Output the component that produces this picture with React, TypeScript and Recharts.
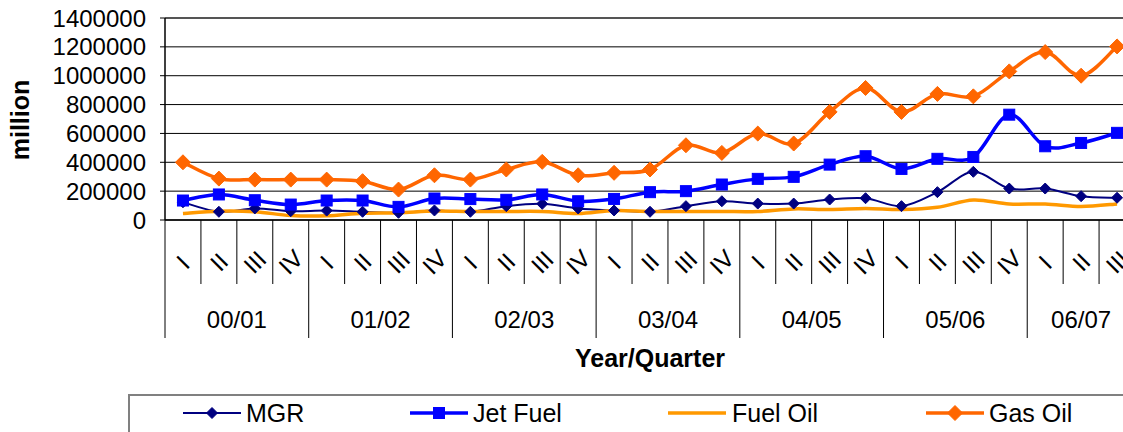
import React from "react";
import { LineChart, Line, XAxis, YAxis, CartesianGrid, ReferenceLine, Legend } from "recharts";

// ---------- data ----------
const years = ["00/01", "01/02", "02/03", "03/04", "04/05", "05/06", "06/07"];
const quartersPerYear = [4, 4, 4, 4, 4, 4, 3];
const quarterNames = ["I", "II", "III", "IV"];
const yTicks = [0, 200000, 400000, 600000, 800000, 1000000, 1200000, 1400000];

const mgr = [123000, 57000, 80000, 61000, 65000, 57000, 50000, 66000, 57000, 96000, 112000, 80000, 66000, 57000, 96000, 130000, 114000, 114000, 142000, 151000, 96000, 193000, 334000, 218000, 218000, 165000, 154000];
const jetFuel = [135000, 177000, 137000, 107000, 135000, 135000, 91000, 149000, 145000, 140000, 177000, 130000, 146000, 193000, 200000, 246000, 285000, 299000, 384000, 442000, 354000, 424000, 437000, 730000, 511000, 534000, 604000];
const fuelOil = [45000, 61000, 57000, 31000, 29000, 47000, 50000, 63000, 59000, 59000, 59000, 45000, 66000, 59000, 59000, 59000, 59000, 77000, 73000, 80000, 73000, 88000, 139000, 111000, 111000, 93000, 111000];
const gasOil = [400000, 287000, 280000, 280000, 280000, 269000, 211000, 310000, 280000, 350000, 403000, 310000, 327000, 350000, 518000, 465000, 599000, 530000, 749000, 915000, 749000, 874000, 857000, 1030000, 1164000, 1000000, 1203000];

type Cat = { year: string; q: string; qi: number; count: number };
const categories: Cat[] = [];
years.forEach((y, yi) => {
  for (let k = 0; k < quartersPerYear[yi]; k++) {
    categories.push({ year: y, q: quarterNames[k], qi: k, count: quartersPerYear[yi] });
  }
});

const data = categories.map((c, i) => ({
  cat: i,
  mgr: mgr[i],
  jet: jetFuel[i],
  fuel: fuelOil[i],
  gas: gasOil[i],
}));

// ---------- layout / style ----------
const FONT = "'Liberation Sans', Arial, sans-serif";
const CHART_W = 1160;
const CHART_H = 432;
const MARGIN = { top: 18, right: 25, left: 0, bottom: 72 };
const Y_W = 165;
const X_H = 140;
const PLOT_W = CHART_W - MARGIN.left - MARGIN.right - Y_W;
const STEP = PLOT_W / categories.length;
const AXIS_Y = CHART_H - MARGIN.bottom - X_H;

const COLORS = { mgr: "#000080", jet: "#0000FF", fuel: "#FF9900", gas: "#FF6600" };

const series = [
  { key: "mgr", name: "MGR", color: COLORS.mgr, width: 2, marker: "diamond", ms: 5.5 },
  { key: "jet", name: "Jet Fuel", color: COLORS.jet, width: 3.5, marker: "square", ms: 5.5 },
  { key: "fuel", name: "Fuel Oil", color: COLORS.fuel, width: 3.5, marker: "none", ms: 0 },
  { key: "gas", name: "Gas Oil", color: COLORS.gas, width: 3.5, marker: "diamond", ms: 7.5 },
];

// Excel-like smoothed line (cardinal spline through points)
function excelSmooth(context: any) {
  let pts: number[][] = [];
  return {
    areaStart() {},
    areaEnd() {},
    lineStart() {
      pts = [];
    },
    point(x: number, y: number) {
      pts.push([+x, +y]);
    },
    lineEnd() {
      const n = pts.length;
      if (!n) return;
      context.moveTo(pts[0][0], pts[0][1]);
      for (let i = 0; i < n - 1; i++) {
        const p0 = pts[i - 1] || pts[i];
        const p1 = pts[i];
        const p2 = pts[i + 1];
        const p3 = pts[i + 2] || p2;
        context.bezierCurveTo(
          p1[0] + (p2[0] - p0[0]) / 6,
          p1[1] + (p2[1] - p0[1]) / 6,
          p2[0] - (p3[0] - p1[0]) / 6,
          p2[1] - (p3[1] - p1[1]) / 6,
          p2[0],
          p2[1]
        );
      }
    },
  };
}

function markerShape(kind: string, cx: number, cy: number, s: number, color: string, key?: any) {
  if (kind === "diamond") {
    return (
      <polygon
        key={key}
        points={`${cx},${cy - s} ${cx + s},${cy} ${cx},${cy + s} ${cx - s},${cy}`}
        fill={color}
        stroke={color}
        strokeWidth={1}
      />
    );
  }
  if (kind === "square") {
    return <rect key={key} x={cx - s} y={cy - s} width={2 * s} height={2 * s} fill={color} stroke={color} strokeWidth={1} />;
  }
  return null;
}

const makeDot = (kind: string, s: number, color: string) => (props: any) => {
  const { cx, cy, index } = props;
  if (cx == null || cy == null) return <g key={`d${index}`} />;
  return markerShape(kind, cx, cy, s, color, `d${index}`);
};

const QuarterTick = (props: any) => {
  const { x, payload } = props;
  const i = Number(payload.value);
  const c = categories[i];
  if (!c) return null;
  const left = x - STEP / 2;
  const isStart = c.qi === 0;
  const isLast = i === categories.length - 1;
  return (
    <g>
      <line x1={left} y1={AXIS_Y} x2={left} y2={AXIS_Y + (isStart ? 118 : 64)} stroke="#000" strokeWidth={1} />
      {isLast && <line x1={x + STEP / 2} y1={AXIS_Y} x2={x + STEP / 2} y2={AXIS_Y + 118} stroke="#000" strokeWidth={1} />}
      <text
        x={x}
        y={262}
        dy="0.355em"
        textAnchor="middle"
        transform={`rotate(-45 ${x} 262)`}
        fontSize={24}
        fontFamily={FONT}
        fill="#000"
      >
        {c.q}
      </text>
      {isStart && (
        <text
          x={left + (c.count * STEP) / 2}
          y={319}
          dy="0.355em"
          textAnchor="middle"
          fontSize={24}
          fontFamily={FONT}
          fill="#000"
        >
          {c.year}
        </text>
      )}
    </g>
  );
};

const XTitle = () => {
  const cx = MARGIN.left + Y_W + PLOT_W / 2;
  return (
    <text x={cx} y={367} textAnchor="middle" fontSize={25} fontWeight="bold" fontFamily={FONT} fill="#000">
      Year/Quarter
    </text>
  );
};

const YTitle = () => (
  <text x={29} y={120} textAnchor="middle" transform="rotate(-90 29 120)" fontSize={25} fontWeight="bold" fontFamily={FONT} fill="#000">
    million
  </text>
);

const legendPos = [
  { lx: 55, tx: 118 },
  { lx: 282, tx: 345 },
  { lx: 540, tx: 604 },
  { lx: 798, tx: 861 },
];

const LegendContent = () => (
  <svg width={1100} height={60} style={{ display: "block" }}>
    <rect x={1} y={1} width={1200} height={80} fill="none" stroke="#808080" strokeWidth={2} />
    {series.map((s, i) => {
      const p = legendPos[i];
      return (
        <g key={s.key}>
          <line x1={p.lx} y1={19} x2={p.lx + 58} y2={19} stroke={s.color} strokeWidth={s.width} />
          {markerShape(s.marker, p.lx + 29, 19, s.ms, s.color)}
          <text x={p.tx} y={19} dy="0.355em" fontSize={25} fontFamily={FONT} fill="#000">
            {s.name}
          </text>
        </g>
      );
    })}
  </svg>
);

export default function App() {
  return (
    <div style={{ position: "absolute", left: 0, top: 0, width: 1123, height: 432, overflow: "hidden", background: "#fff" }}>
      <LineChart width={CHART_W} height={CHART_H} data={data} margin={MARGIN}>
        <CartesianGrid vertical={false} stroke="#000" strokeWidth={1} />
        <XAxis
          dataKey="cat"
          type="category"
          height={X_H}
          interval={0}
          padding={{ left: STEP / 2, right: STEP / 2 }}
          tickLine={false}
          axisLine={{ stroke: "#000", strokeWidth: 1.5 }}
          tick={<QuarterTick />}
          label={<XTitle />}
        />
        <YAxis
          width={Y_W}
          domain={[0, 1400000]}
          ticks={yTicks}
          interval={0}
          tickSize={5}
          tickMargin={14}
          axisLine={{ stroke: "#000", strokeWidth: 1.5 }}
          tickLine={{ stroke: "#000", strokeWidth: 1 }}
          tick={{ fontSize: 24, fill: "#000", fontFamily: FONT }}
          label={<YTitle />}
        />
        <ReferenceLine y={1400000} stroke="#555" strokeWidth={2} />
        {series.map((s) => (
          <Line
            key={s.key}
            dataKey={s.key}
            name={s.name}
            type={excelSmooth as any}
            stroke={s.color}
            strokeWidth={s.width}
            dot={s.marker === "none" ? false : makeDot(s.marker, s.ms, s.color)}
            activeDot={false}
            isAnimationActive={false}
          />
        ))}
        <Legend
          layout="horizontal"
          verticalAlign="middle"
          align="center"
          wrapperStyle={{ left: 128, top: 394, width: 1100, height: 60 }}
          content={<LegendContent />}
        />
      </LineChart>
    </div>
  );
}
